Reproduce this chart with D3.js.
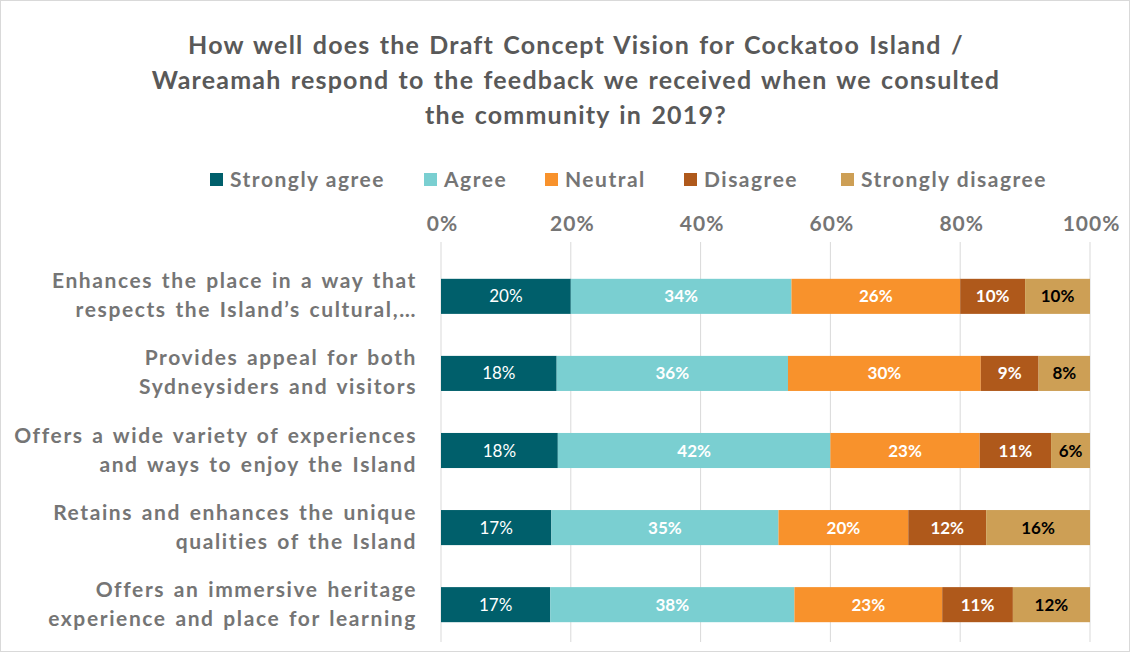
<!DOCTYPE html>
<html><head><meta charset="utf-8">
<script src="https://cdn.jsdelivr.net/npm/d3@7"></script>
<style>body{margin:0;background:#fff;} svg{display:block;}</style>
</head><body>
<script>
const titleLines = ["How well does the Draft Concept Vision for Cockatoo Island /",
  "Wareamah respond to the feedback we received when we consulted",
  "the community in 2019?"];
const categories = [
  ["Enhances the place in a way that", "respects the Island\u2019s cultural,\u2026"],
  ["Provides appeal for both", "Sydneysiders and visitors"],
  ["Offers a wide variety of experiences", "and ways to enjoy the Island"],
  ["Retains and enhances the unique", "qualities of the Island"],
  ["Offers an immersive heritage", "experience and place for learning"]
];
const seriesNames = ["Strongly agree", "Agree", "Neutral", "Disagree", "Strongly disagree"];
const stronglyAgree = [20, 18, 18, 17, 17];
const agree = [34, 36, 42, 35, 38];
const neutral = [26, 30, 23, 20, 23];
const disagree = [10, 9, 11, 12, 11];
const stronglyDisagree = [10, 8, 6, 16, 12];
const tickValues = [0, 0.2, 0.4, 0.6, 0.8, 1];
const colors = ["#005F6B", "#7ACFD1", "#F8922C", "#AF591B", "#CD9F55"];
const labelColors = ["#fff", "#fff", "#fff", "#fff", "#000"];
const labelWeights = ["normal", "bold", "bold", "bold", "bold"];

const W = 1130, H = 652;
const font = "Lato, 'Open Sans', sans-serif";
const svg = d3.select("body").append("svg").attr("width", W).attr("height", H);
svg.append("rect").attr("x", 0.5).attr("y", 0.5).attr("width", W - 1).attr("height", H - 1)
  .attr("fill", "#fff").attr("stroke", "#d9d9d9");

// title
svg.append("g").selectAll("text").data(titleLines).join("text")
  .attr("x", 576).attr("y", (d, i) => 54 + i * 35)
  .attr("text-anchor", "middle").attr("font-family", font).attr("font-weight", "bold")
  .attr("font-size", 25).attr("letter-spacing", 1.2).attr("word-spacing", 2)
  .attr("fill", "#595959").text(d => d);

const rows = categories.map((c, i) => ({
  i, "Strongly agree": stronglyAgree[i], "Agree": agree[i], "Neutral": neutral[i],
  "Disagree": disagree[i], "Strongly disagree": stronglyDisagree[i]
}));
const stack = d3.stack().keys(seriesNames).offset(d3.stackOffsetExpand);
const series = stack(rows);

const x = d3.scaleLinear().domain([0, 1]).range([441, 1090]);
const y = d3.scaleBand().domain(d3.range(categories.length)).range([258, 643]).paddingInner(0.545).paddingOuter(0.27);

// gridlines
svg.append("g").selectAll("line").data(tickValues).join("line")
  .attr("x1", d => x(d)).attr("x2", d => x(d)).attr("y1", 242).attr("y2", 642)
  .attr("stroke", "#d9d9d9").attr("stroke-width", 1);

// top axis
const ax = svg.append("g").attr("transform", "translate(0,231)")
  .call(d3.axisTop(x).tickValues(tickValues).tickFormat(d3.format(".0%")).tickSize(0).tickPadding(0));
ax.select(".domain").remove();
ax.selectAll("text").attr("font-family", font).attr("font-weight", "bold").attr("font-size", 21)
  .attr("letter-spacing", 1).attr("dx", 1).attr("fill", "#757575");

// bars
const g = svg.append("g");
series.forEach((s, k) => {
  g.append("g").selectAll("rect").data(s).join("rect")
    .attr("x", d => x(d[0])).attr("width", d => x(d[1]) - x(d[0]))
    .attr("y", d => y(d.data.i)).attr("height", y.bandwidth())
    .attr("fill", colors[k]);
  g.append("g").selectAll("text").data(s).join("text")
    .attr("x", d => (x(d[0]) + x(d[1])) / 2).attr("y", d => y(d.data.i) + y.bandwidth() / 2 + 6)
    .attr("text-anchor", "middle").attr("font-family", font).attr("font-size", 17)
    .attr("font-weight", labelWeights[k]).attr("fill", labelColors[k])
    .text(d => d.data[seriesNames[k]] + "%");
});

// category labels
const cl = svg.append("g");
categories.forEach((lines, i) => {
  const cy = y(i) + y.bandwidth() / 2;
  cl.append("text").attr("text-anchor", "end").attr("font-family", font).attr("font-weight", "bold")
    .attr("font-size", 21).attr("letter-spacing", 1.6).attr("word-spacing", 2).attr("fill", "#757575")
    .selectAll("tspan").data(lines).join("tspan")
    .attr("x", 417).attr("y", (d, j) => cy - 8 + j * 29).text(d => d);
});

// legend
const legX = [210, 424, 545, 684, 841];
const leg = svg.append("g");
seriesNames.forEach((n, k) => {
  leg.append("rect").attr("x", legX[k]).attr("y", 173).attr("width", 13).attr("height", 13).attr("fill", colors[k]);
  leg.append("text").attr("x", legX[k] + 20).attr("y", 187).attr("font-family", font).attr("font-weight", "bold")
    .attr("font-size", 21).attr("letter-spacing", 1.5).attr("fill", "#757575").text(n);
});
</script>
</body></html>
